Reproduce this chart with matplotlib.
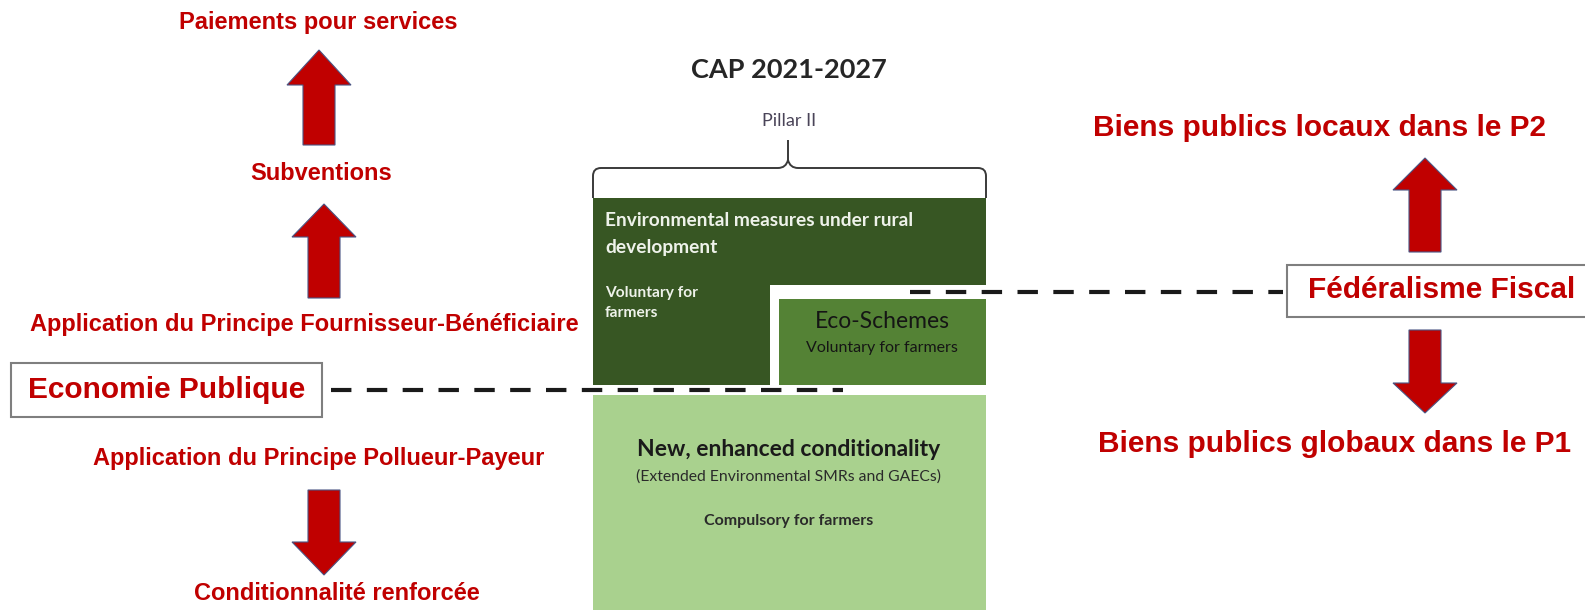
import matplotlib.pyplot as plt
from matplotlib.patches import Polygon, Rectangle
from matplotlib.path import Path
from matplotlib.patches import PathPatch

# Texts of the diagram
left_labels = ['Paiements pour services', 'Subventions',
               'Application du Principe Fournisseur-Bénéficiaire',
               'Application du Principe Pollueur-Payeur',
               'Conditionnalité renforcée']
right_labels = ['Biens publics locaux dans le P2', 'Biens publics globaux dans le P1']
box_labels = ['Economie Publique', 'Fédéralisme Fiscal']
cap_title = 'CAP 2021-2027'
pillar_label = 'Pillar II'
env_labels = ['Environmental measures under rural\ndevelopment', 'Voluntary for\nfarmers']
eco_labels = ['Eco-Schemes', 'Voluntary for farmers']
cond_labels = ['New, enhanced conditionality', '(Extended Environmental SMRs and GAECs)',
               'Compulsory for farmers']

RED = '#c00000'
DARK = '#375623'
MID = '#548235'
LIGHT = '#a9d18e'


def arrow(ax, x, tail, base, tip, shaft=16, head=32):
    """Block arrow drawn in pixel coordinates (y grows downward)"""
    pts = [(x - shaft, tail), (x - shaft, base), (x - head, base), (x, tip),
           (x + head, base), (x + shaft, base), (x + shaft, tail)]
    ax.add_patch(Polygon(pts, closed=True, facecolor=RED, edgecolor='#4a5584', lw=0.8))


def main():
    fig = plt.figure(figsize=(15.85, 6.10), dpi=100)
    ax = fig.add_axes([0, 0, 1, 1])
    ax.set_xlim(0, 1585)
    ax.set_ylim(610, 0)
    ax.axis('off')

    red = dict(color=RED, family='Liberation Sans', weight='bold', ha='center', va='center')
    cal = dict(family='Lato', ha='center', va='center')

    # Left column
    ax.text(318, 22, left_labels[0], fontsize=17, **red)
    arrow(ax, 319, 145, 85, 50)
    ax.text(321, 174, left_labels[1], fontsize=17, **red)
    arrow(ax, 324, 298, 237, 204)
    ax.text(304, 324, left_labels[2], fontsize=17, **red)
    ax.add_patch(Rectangle((11, 363), 311, 54, facecolor='white', edgecolor='#7f7f7f', lw=1.5))
    ax.text(167, 390, box_labels[0], fontsize=21.5, **red)
    ax.text(319, 459, left_labels[3], fontsize=17, **red)
    arrow(ax, 324, 490, 542, 575)
    ax.text(337, 594, left_labels[4], fontsize=17, **red)

    # Centre blocks
    ax.text(789, 70, cap_title, fontsize=19.5, weight='bold', color='#262626', **cal)
    ax.text(789, 121, pillar_label, fontsize=13, color='#4a4458', **cal)
    brace = Path([(593, 198), (593, 176), (593, 168), (601, 168), (778, 168),
                  (786, 168), (788, 160), (788, 140)],
                 [Path.MOVETO, Path.LINETO, Path.CURVE3, Path.CURVE3, Path.LINETO,
                  Path.CURVE3, Path.CURVE3, Path.LINETO])
    brace2 = Path([(986, 198), (986, 176), (986, 168), (978, 168), (798, 168),
                   (790, 168), (788, 160)],
                  [Path.MOVETO, Path.LINETO, Path.CURVE3, Path.CURVE3, Path.LINETO,
                   Path.CURVE3, Path.CURVE3])
    for p in (brace, brace2):
        ax.add_patch(PathPatch(p, facecolor='none', edgecolor='#3a3a3a', lw=1.4))

    ax.add_patch(Polygon([(593, 198), (986, 198), (986, 285), (770, 285), (770, 385), (593, 385)],
                         closed=True, facecolor=DARK, edgecolor='none'))
    ax.add_patch(Rectangle((779, 299), 207, 86, facecolor=MID, edgecolor='none'))
    ax.add_patch(Rectangle((593, 395), 393, 215, facecolor=LIGHT, edgecolor='none'))

    ax.text(605, 234, env_labels[0], fontsize=13.8, weight='bold', color='#eef2ea',
            family='Lato', ha='left', va='center', linespacing=1.65)
    ax.text(605, 303, env_labels[1], fontsize=11.2, weight='bold', color='#eef2ea',
            family='Lato', ha='left', va='center', linespacing=1.5)
    ax.text(882, 322, eco_labels[0], fontsize=16.5, color='#151515', **cal)
    ax.text(882, 348, eco_labels[1], fontsize=11.5, color='#151515', **cal)
    ax.text(789, 450, cond_labels[0], fontsize=16.5, weight='bold', color='#1a1a1a', **cal)
    ax.text(789, 477, cond_labels[1], fontsize=11.3, color='#2a2a2a', **cal)
    ax.text(789, 521, cond_labels[2], fontsize=11.5, weight='bold', color='#2a2a2a', **cal)

    # Dashed links
    dash = dict(color='#1a1a1a', lw=3, linestyle=(0, (4.9, 3.7)), dash_capstyle='butt')
    ax.plot([331, 843], [390, 390], **dash)
    ax.plot([910, 1283], [292, 292], **dash)

    # Right column
    ax.text(1320, 128, right_labels[0], fontsize=21.5, **red)
    arrow(ax, 1425, 252, 190, 158)
    ax.add_patch(Rectangle((1287, 265), 320, 52, facecolor='white', edgecolor='#7f7f7f',
                           lw=1.5, clip_on=True))
    ax.text(1308, 290, box_labels[1], fontsize=21.5, color=RED, family='Liberation Sans',
            weight='bold', ha='left', va='center')
    arrow(ax, 1425, 330, 383, 413)
    ax.text(1335, 444, right_labels[1], fontsize=21.5, **red)

    fig.savefig('out.png', dpi=100)
    return 0


if __name__ == '__main__':
    exit(main())
